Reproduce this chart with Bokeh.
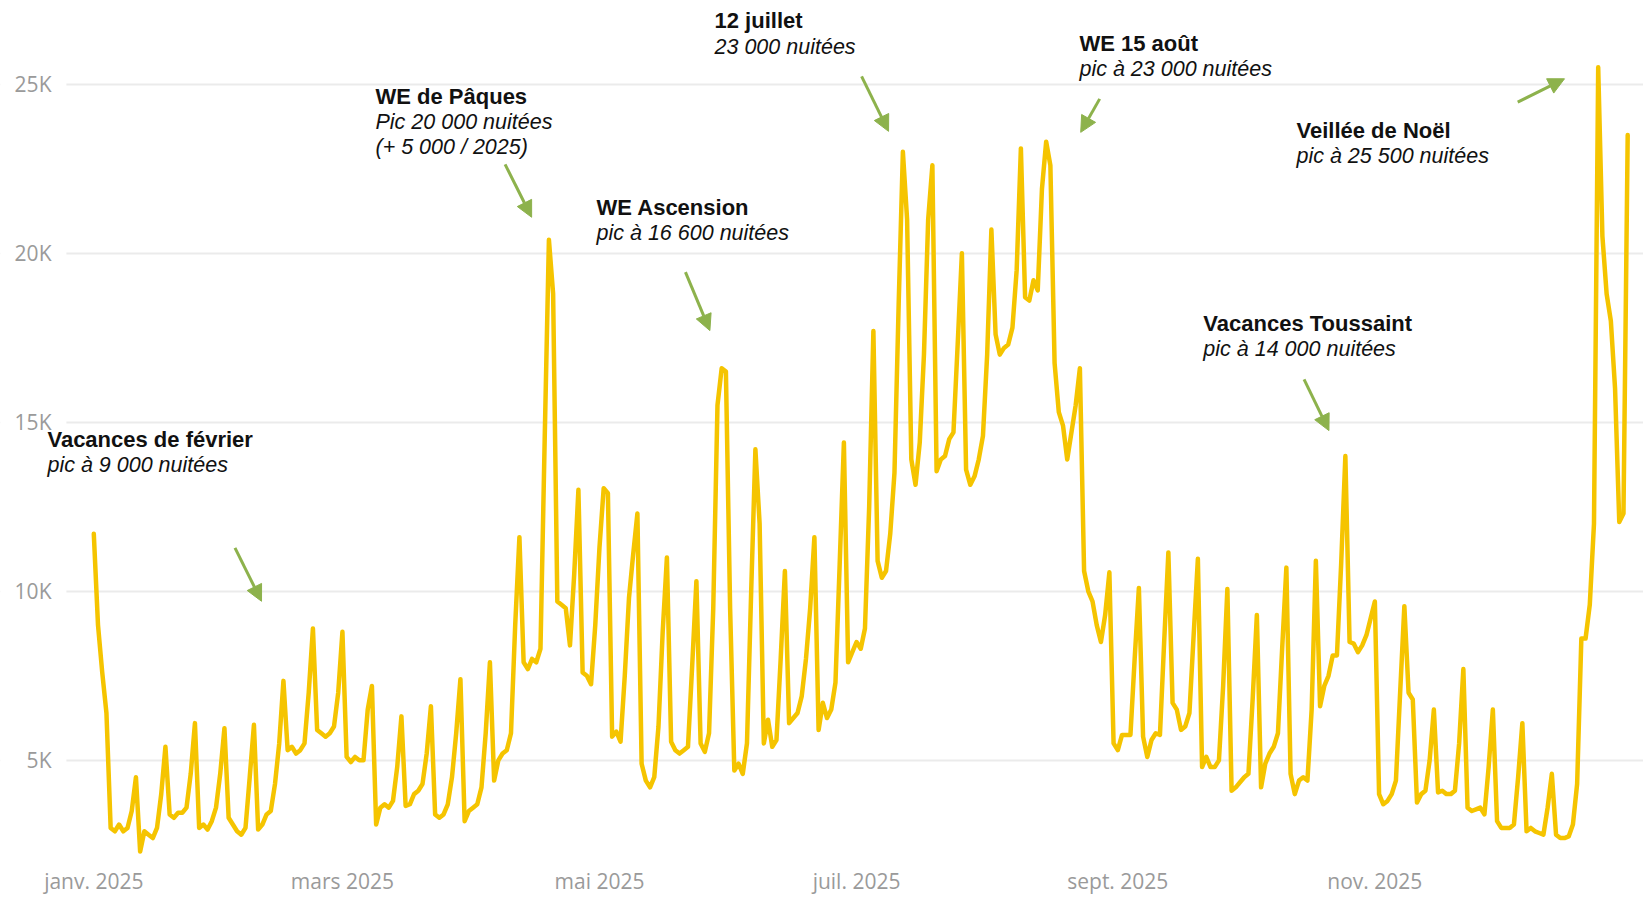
from datetime import date
from bokeh.plotting import figure
from bokeh.models import (Range1d, FixedTicker, Label, Arrow, NormalHead, ColumnDataSource,
                          Grid, BoxAnnotation)
from bokeh.embed import file_html
from bokeh.resources import INLINE

# ---------------- data ----------------
start_date = date(2025, 1, 1)

# nuitées per night, 1 Jan 2025 .. 31 Dec 2025
nuitees = [
    11700, 9000, 7600, 6400, 3000, 2900, 3100,
    2900, 3000, 3500, 4500, 2300, 2900, 2800,
    2700, 3000, 4000, 5400, 3400, 3300, 3450,
    3450, 3600, 4600, 6100, 3000, 3100, 2950,
    3200, 3600, 4600, 5950, 3300, 3100, 2900,
    2800, 3000, 4500, 6050, 2950, 3100, 3400,
    3500, 4300, 5500, 7350, 5300, 5400, 5200,
    5300, 5500, 7000, 8900, 5900, 5800, 5700,
    5800, 6000, 7000, 8800, 5100, 4950, 5100,
    5000, 5000, 6500, 7200, 3100, 3600, 3700,
    3600, 3800, 4800, 6300, 3650, 3700, 4000,
    4100, 4300, 5200, 6600, 3400, 3300, 3400,
    3700, 4500, 5800, 7400, 3200, 3500, 3600,
    3700, 4200, 5800, 7900, 4400, 5000, 5200,
    5300, 5800, 9000, 11600, 7900, 7700, 8000,
    7900, 8300, 14500, 20400, 18800, 9700, 9600,
    9500, 8400, 10500, 13000, 7600, 7500, 7250,
    9000, 11300, 13050, 12900, 5700, 5850, 5550,
    7500, 9800, 11100, 12300, 4900, 4400, 4200,
    4500, 6000, 8800, 11000, 5550, 5300, 5200,
    5300, 5400, 7800, 10300, 5500, 5250, 5800,
    9500, 15500, 16600, 16500, 9500, 4700, 4900,
    4600, 5500, 10000, 14200, 12000, 5500, 6200,
    5400, 5600, 8000, 10600, 6100, 6250, 6400,
    6900, 8000, 9500, 11600, 5900, 6700, 6250,
    6500, 7300, 10800, 14400, 7900, 8200, 8500,
    8300, 8900, 12500, 17700, 10900, 10400, 10600,
    11700, 13500, 18500, 23000, 21000, 13900, 13150,
    14400, 17000, 21000, 22600, 13550, 13900, 14000,
    14500, 14700, 17300, 20000, 13600, 13150, 13400,
    13900, 14600, 17000, 20700, 17600, 17000, 17200,
    17300, 17800, 19500, 23100, 18700, 18600, 19200,
    18900, 21900, 23300, 22600, 16750, 15300, 14900,
    13900, 14700, 15500, 16600, 10600, 10000, 9700,
    9000, 8500, 9300, 10560, 5500, 5300, 5750,
    5750, 5750, 8000, 10100, 5700, 5100, 5600,
    5800, 5750, 8500, 11150, 6700, 6500, 5900,
    6000, 6400, 8700, 10960, 4800, 5100, 4800,
    4800, 5000, 7200, 10070, 4100, 4200, 4350,
    4500, 4600, 6800, 9300, 4200, 4900, 5200,
    5400, 5800, 8300, 10700, 4600, 4000, 4400,
    4500, 4400, 6500, 10900, 6600, 7200, 7500,
    8100, 8100, 10800, 14000, 8500, 8450, 8200,
    8400, 8700, 9200, 9700, 4000, 3700, 3800,
    4000, 4400, 7000, 9560, 7000, 6800, 3750,
    4000, 4100, 5000, 6500, 4050, 4100, 4000,
    4000, 4100, 5500, 7700, 3600, 3500, 3550,
    3600, 3400, 4800, 6500, 3200, 3000, 3000,
    3000, 3100, 4500, 6100, 2900, 3000, 2900,
    2850, 2800, 3600, 4600, 2800, 2700, 2700,
    2750, 3100, 4300, 8600, 8600, 9600, 12000,
    25500, 20500, 18800, 18000, 16000, 12050, 12300,
    23500,
]
day_index = list(range(len(nuitees)))

month_dates = [date(2025, 1, 1), date(2025, 3, 1), date(2025, 5, 1),
               date(2025, 7, 1), date(2025, 9, 1), date(2025, 11, 1)]
month_labels = ["janv. 2025", "mars 2025", "mai 2025", "juil. 2025", "sept. 2025", "nov. 2025"]
month_ticks = [(d - start_date).days for d in month_dates]

y_ticks = [5000, 10000, 15000, 20000, 25000]
y_labels = ["5K", "10K", "15K", "20K", "25K"]

# annotations: title, subtitle lines, anchor (day, nuitées) of the title line
ann_titles = ["Vacances de février", "WE de Pâques", "WE Ascension", "12 juillet",
              "WE 15 août", "Veillée de Noël", "Vacances Toussaint"]
ann_subtitles = [["pic à 9 000 nuitées"],
                 ["Pic 20 000 nuitées", "(+ 5 000 / 2025)"],
                 ["pic à 16 600 nuitées"],
                 ["23 000 nuitées"],
                 ["pic à 23 000 nuitées"],
                 ["pic à 25 500 nuitées"],
                 ["pic à 14 000 nuitées"]]
ann_x = [-11.0, 66.85, 119.3, 147.3, 233.9, 285.4, 263.3]
ann_y = [14476, 24640, 21345, 26870, 26205, 23635, 17909]
line_step = 755  # vertical distance between annotation lines, in nuitées

# arrows (start day, start value) -> (end day, end value)
arr_x0 = [33.5, 97.6, 140.4, 182.2, 238.7, 337.9, 287.2]
arr_y0 = [11285, 22630, 19439, 25230, 24566, 24471, 16269]
arr_x1 = [39.8, 103.9, 146.2, 188.6, 234.2, 349.0, 293.1]
arr_y1 = [9704, 21064, 17711, 23605, 23576, 25160, 14753]

# ---------------- figure ----------------
W, H = 1643, 897
X0, X1 = -22.14, 367.75
p = figure(width=W, height=H, output_backend="svg", toolbar_location=None,
           x_range=Range1d(X0, X1), y_range=Range1d(2214, 27476),
           y_axis_location=None,
           min_border_left=0, min_border_right=0, min_border_top=0, min_border_bottom=42)
p.outline_line_color = None
p.background_fill_color = "white"
p.border_fill_color = "white"

axis_color = "#9a9a9a"

# horizontal grid lines
p.add_layout(Grid(dimension=1, ticker=FixedTicker(ticks=y_ticks),
                  grid_line_color="#EBEBEB", grid_line_width=2))
# blank strip left of the grid (room for the value labels)
p.add_layout(BoxAnnotation(left=X0 - 5, right=-6.5, fill_color="white", fill_alpha=1.0,
                           line_color=None))

src = ColumnDataSource(dict(day=day_index, nuitees=nuitees))
p.line(x="day", y="nuitees", source=src, line_color="#F5C400", line_width=4.5,
       line_join="round", line_cap="round")

# value labels (left scale)
for t, lab in zip(y_ticks, y_labels):
    p.add_layout(Label(x=-10.04, y=t, text=lab, text_font="Open Sans", text_font_size="21px",
                       text_color=axis_color, text_align="right", text_baseline="middle"))

# month axis
xa = p.xaxis[0]
xa.ticker = FixedTicker(ticks=month_ticks)
xa.major_label_overrides = {t: l for t, l in zip(month_ticks, month_labels)}
xa.axis_line_color = None
xa.major_tick_line_color = None
xa.minor_tick_line_color = None
xa.major_tick_out = 0
xa.major_tick_in = 0
xa.minor_tick_out = 0
xa.minor_tick_in = 0
xa.major_label_text_font = "Open Sans"
xa.major_label_text_font_size = "21px"
xa.major_label_text_color = axis_color
xa.major_label_standoff = 12
p.xgrid.grid_line_color = None

green = "#8DB24C"
for title, subs, x, y in zip(ann_titles, ann_subtitles, ann_x, ann_y):
    p.add_layout(Label(x=x, y=y, text=title, text_font="Liberation Sans",
                       text_font_style="bold", text_font_size="22px", text_color="#111111",
                       text_baseline="middle", text_align="left"))
    for k, s in enumerate(subs):
        p.add_layout(Label(x=x, y=y - (k + 1) * line_step, text=s, text_font="Liberation Sans",
                           text_font_style="italic", text_font_size="21.5px", text_color="#111111",
                           text_baseline="middle", text_align="left"))

for x0, y0, x1, y1 in zip(arr_x0, arr_y0, arr_x1, arr_y1):
    p.add_layout(Arrow(end=NormalHead(size=16, fill_color=green, line_color=green),
                       x_start=x0, y_start=y0, x_end=x1, y_end=y1,
                       line_color=green, line_width=3))

open("out.html", "w").write(file_html(p, INLINE))
